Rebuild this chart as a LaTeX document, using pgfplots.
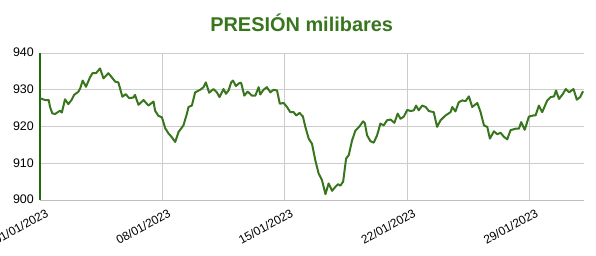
\documentclass[border=0pt]{standalone}
\usepackage{fontspec}
\setmainfont{Liberation Sans}
\usepackage{pgfplots}
\pgfplotsset{compat=1.18}
\definecolor{lineg}{HTML}{38761D}
\definecolor{axg}{HTML}{1E6B0A}
\begin{document}
\begin{tikzpicture}
\useasboundingbox (-40bp,-56bp) rectangle (556bp,200bp);
\begin{axis}[
  at={(0,0)}, anchor=south west,
  scale only axis, width=544bp, height=147bp,
  xmin=0, xmax=31.1, ymin=900, ymax=940,
  xtick={0,7,14,21,28},
  xticklabels={01/01/2023,08/01/2023,15/01/2023,22/01/2023,29/01/2023},
  ytick={900,910,920,930,940},
  /pgf/number format/assume math mode=true,
  x tick label style={xshift=5bp, yshift=-8bp, rotate=29, anchor=north east, font=\fontsize{12}{14}\selectfont, inner sep=0pt},
  y tick label style={font=\fontsize{12.5}{14}\selectfont, inner sep=0pt, xshift=-6bp, yshift=0.5bp},
  major tick length=0pt,
  grid=major, major grid style={color=black!20, line width=0.8pt},
  axis line style={draw=none},
  clip=false,
  title={\textbf{PRESIÓN milibares}},
  title style={font=\fontsize{20}{22}\selectfont, color=lineg, at={(0.481,1)}, anchor=south, yshift=12bp},
]
\draw[black!25, line width=0.8pt] (axis cs:0,900) -- (axis cs:31.1,900);
\draw[axg, line width=1.3pt] (axis cs:0,900) -- (axis cs:0,940);
\addplot[lineg, line width=2bp, mark=none, line join=round] coordinates {
(0,927.7)(0.29,927.2)(0.5,927.2)(0.57,925.4)(0.7,923.6)(0.86,923.4)(1.05,924)(1.15,924.3)(1.25,923.8)
(1.43,927.4)(1.62,926.1)(1.8,927.2)(1.95,928.6)(2.2,929.5)(2.3,930.4)(2.44,932.5)(2.63,930.8)
(2.86,933.4)(3.0,934.5)(3.2,934.5)(3.43,935.8)(3.63,933.1)(3.91,934.5)(4.1,933.4)(4.3,932.2)
(4.48,932)(4.71,928.1)(4.9,928.8)(5.1,927.7)(5.34,927.9)(5.43,928.6)(5.63,925.9)(5.92,927.2)
(6.2,925.7)(6.49,926.8)(6.58,924.3)(6.77,922.9)(6.97,922.5)(7.16,919.5)(7.35,918.1)(7.53,917.1)
(7.73,915.8)(7.92,918.5)(8.2,920.3)(8.4,923.5)(8.49,925.3)(8.68,925.7)(8.87,929.3)(9.16,930)
(9.35,930.7)(9.48,932)(9.67,929.2)(9.92,930.2)(10.11,929.3)(10.26,928)(10.49,930.2)(10.63,928.9)
(10.78,929.8)(10.93,932)(11.03,932.5)(11.2,931)(11.39,931.8)(11.5,931.9)(11.68,928.4)(11.87,929.5)
(12.12,928.4)(12.31,928.4)(12.5,930.7)(12.59,928.7)(12.78,930)(12.97,930.7)(13.17,929.3)(13.36,930)
(13.55,929.8)(13.71,926.2)(13.93,926.4)(14.12,925.3)(14.31,923.9)(14.5,923.9)(14.65,923)(14.84,923.7)
(15.03,922.7)(15.17,919.9)(15.36,916.7)(15.55,915.3)(15.74,910.8)(15.93,907.2)(16.12,905.4)(16.32,901.6)
(16.5,904.5)(16.7,902.5)(16.89,903.6)(17.04,904.3)(17.17,903.9)(17.33,905)(17.5,911.3)(17.65,912.2)
(17.84,916.2)(18.03,918.9)(18.26,920)(18.47,921.4)(18.57,920.9)(18.7,917.6)(18.89,916)(19.08,915.6)
(19.27,917.6)(19.46,920.8)(19.65,920.3)(19.84,921.7)(20.04,921.9)(20.26,921)(20.45,923.5)(20.61,922.1)
(20.8,922.7)(20.99,924.5)(21.2,924.2)(21.37,924.4)(21.5,925.7)(21.65,924.4)(21.85,925.7)(22.05,925.3)
(22.23,924.2)(22.51,923.9)(22.7,919.9)(22.9,921.7)(23.18,923)(23.47,923.9)(23.57,925.3)(23.75,924.1)
(23.94,926.6)(24.14,927.1)(24.33,926.9)(24.52,928.2)(24.71,925.3)(25,926.4)(25.19,923.9)(25.38,920.3)
(25.57,919.9)(25.72,916.7)(25.95,918.7)(26.14,917.9)(26.33,918.3)(26.52,917.2)(26.71,916.5)(26.9,919)
(27.19,919.4)(27.38,919.4)(27.51,921.2)(27.71,919.1)(27.95,922.7)(28.2,923)(28.33,923)(28.52,925.7)
(28.71,923.9)(29,927.1)(29.19,928)(29.39,928.2)(29.5,929.8)(29.67,927.5)(29.87,928.7)(30.06,930.2)
(30.25,929.3)(30.5,930.2)(30.69,927.3)(30.88,928)(31.05,929.6)
};
\end{axis}
\end{tikzpicture}
\end{document}
